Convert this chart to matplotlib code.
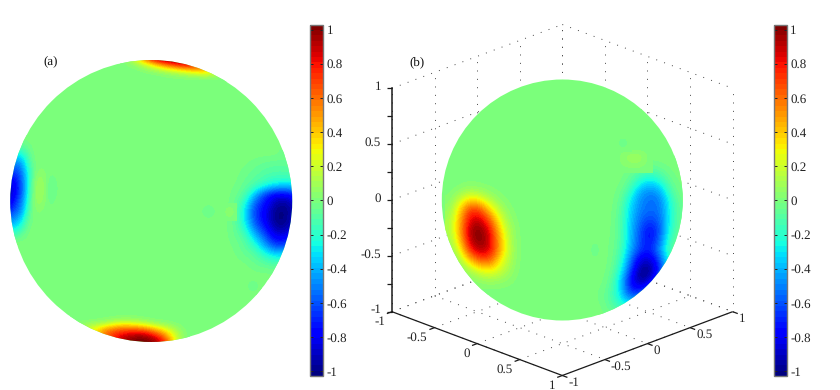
import numpy as np
import matplotlib
matplotlib.use("Agg")
import matplotlib.pyplot as plt
from matplotlib.cm import ScalarMappable
from matplotlib.colors import Normalize
from matplotlib.patches import Circle
from mpl_toolkits.mplot3d import proj3d

plt.rcParams['font.family'] = ['Liberation Serif', 'DejaVu Serif']
plt.rcParams['axes.unicode_minus'] = False
plt.rcParams['text.hinting'] = 'none'
plt.rcParams['text.hinting_factor'] = 1

# ---- data: field values on small lattices -----------------------------------
a_top = [
    [0, .20, .60, .90, 1.03, 1.03, 1.00, .90, .75, .40, 0],
    [0, .20, .55, .85, 1.00, 1.03, 1.00, .85, .70, .35, 0],
    [0, .06, .20, .40, .60, .75, .85, .75, .60, .30, 0],
    [0, 0, .04, .12, .22, .32, .42, .50, .50, .25, 0],
    [0, 0, 0, 0, .03, .06, .10, .15, .20, .15, 0],
    [0, 0, 0, 0, 0, 0, 0, 0, 0, 0, 0],
]
a_bottom = [
    [0, 0, 0, 0, 0, 0, 0, 0, 0, 0, 0, 0],
    [0, 0, 0, .02, .05, .08, .06, .03, 0, 0, 0, 0],
    [0, .08, .12, .20, .30, .35, .30, .25, .15, .08, .02, 0],
    [0, .15, .30, .50, .60, .65, .65, .60, .45, .30, .12, 0],
    [0, .15, .30, .60, .75, .85, .90, .90, .75, .50, .20, 0],
    [0, .15, .30, .60, .80, .95, 1.03, 1.03, .95, .70, .25, 0],
    [0, .15, .30, .60, .80, .95, 1.03, 1.03, 1.00, .75, .30, 0],
]
a_left = [
    [0, 0, 0, 0, 0, 0, 0, 0, 0, 0, 0, 0],
    [-.15, -.15, -.15, -.15, -.10, -.03, 0, 0, 0, 0, 0, 0],
    [-.45, -.45, -.45, -.40, -.25, -.08, 0, 0, 0, 0, 0, 0],
    [-.60, -.60, -.60, -.55, -.35, -.15, -.01, .02, .01, 0, 0, 0],
    [-.80, -.80, -.75, -.60, -.40, -.15, .04, .08, .03, -.04, -.02, 0],
    [-.90, -.90, -.80, -.65, -.40, -.12, .06, .10, .03, -.08, -.03, 0],
    [-.85, -.85, -.70, -.55, -.35, -.10, .06, .08, .02, -.04, -.01, 0],
    [-.70, -.70, -.60, -.50, -.28, -.06, .02, .02, 0, 0, 0, 0],
    [-.50, -.50, -.42, -.35, -.15, -.03, 0, 0, 0, 0, 0, 0],
    [-.25, -.25, -.25, -.15, -.06, 0, 0, 0, 0, 0, 0, 0],
    [0, 0, 0, 0, 0, 0, 0, 0, 0, 0, 0, 0],
]
a_right = [
    [0, 0, 0, 0, 0, 0, -.03, 0],
    [0, 0, -.01, -.04, -.07, -.08, -.08, -.05],
    [0, 0, -.04, -.07, -.10, -.12, -.12, -.10],
    [0, -.01, -.06, -.10, -.20, -.28, -.30, -.30],
    [0, -.03, -.10, -.40, -.68, -.82, -.85, -.70],
    [0, -.04, -.25, -.62, -.75, -.95, -1.00, -.90],
    [0, -.05, -.30, -.65, -.80, -1.02, -1.03, -.85],
    [0, -.05, -.25, -.58, -.75, -.98, -1.00, -.85],
    [0, -.05, -.12, -.40, -.60, -.85, -.85, -.70],
    [0, -.02, -.08, -.20, -.45, -.65, -.65, -.50],
    [0, -.01, -.05, -.08, -.20, -.30, -.30, -.30],
    [0, 0, 0, -.04, -.06, -.08, -.08, -.08],
    [0, 0, 0, 0, 0, 0, 0, 0],
]
a_spot1 = [[0, 0, 0], [0, -.10, 0], [0, 0, 0]]
a_spot2 = [[0, 0, 0], [0, -.09, 0], [0, 0, 0]]
a_spot3 = [[0, 0, 0], [0, .09, 0], [0, 0, 0]]

b_red = [
    [0, 0, 0, 0, 0, 0, 0, 0],
    [0, .03, .08, .05, .02, 0, 0, 0],
    [.02, .20, .38, .32, .14, .04, 0, 0],
    [.06, .38, .75, .70, .38, .14, .02, 0],
    [.10, .45, .86, .90, .65, .26, .05, 0],
    [.10, .48, .95, 1.03, .82, .38, .10, 0],
    [.08, .40, .92, 1.03, .88, .45, .12, 0],
    [.03, .26, .76, .95, .85, .48, .14, 0],
    [0, .10, .42, .66, .66, .32, .12, 0],
    [0, .02, .12, .26, .32, .22, .08, 0],
    [0, 0, .02, .06, .09, .07, .03, 0],
    [0, 0, 0, 0, 0, 0, 0, 0],
]
b_blue = [
    [0, 0, 0, 0, 0, 0, 0, 0, 0],
    [0, 0, 0, -.02, -.08, -.10, -.06, -.01, 0],
    [0, 0, 0, -.06, -.20, -.28, -.20, -.05, 0],
    [0, 0, -.02, -.15, -.40, -.48, -.40, -.12, -.01],
    [0, 0, -.04, -.27, -.48, -.55, -.52, -.22, -.03],
    [0, 0, -.06, -.33, -.50, -.55, -.53, -.25, -.05],
    [0, 0, -.08, -.34, -.55, -.65, -.56, -.25, -.04],
    [0, 0, -.08, -.36, -.60, -.78, -.60, -.22, -.03],
    [0, -.01, -.08, -.36, -.62, -.78, -.55, -.15, -.02],
    [0, -.01, -.10, -.40, -.65, -.72, -.45, -.10, 0],
    [0, -.01, -.14, -.50, -.85, -.90, -.60, -.20, 0],
    [0, -.02, -.20, -.60, -1.00, -1.00, -.70, -.20, 0],
    [0, -.04, -.30, -.75, -1.00, -.90, -.50, -.10, 0],
    [-.01, -.08, -.30, -.70, -.75, -.50, -.20, 0, 0],
    [-.01, -.10, -.25, -.45, -.40, -.20, 0, 0, 0],
    [0, -.04, -.10, -.10, -.05, 0, 0, 0, 0],
]
b_bump = [[0, 0, 0, 0], [0, .07, .10, 0], [0, .05, .06, 0], [0, 0, 0, 0]]
b_spot1 = [[0, 0, 0], [0, -.07, 0], [0, 0, 0]]
b_spot2 = [[0, 0, 0], [0, -.06, 0], [0, 0, 0]]

colorbar_ticks = [-1, -.8, -.6, -.4, -.2, 0, .2, .4, .6, .8, 1]
colorbar_labels = ['-1', '-0.8', '-0.6', '-0.4', '-0.2', '0', '0.2', '0.4', '0.6', '0.8', '1']
axis_ticks = [-1, -.5, 0, .5, 1]
axis_labels = ['-1', '-0.5', '0', '0.5', '1']
z_minor_ticks = [-.75, -.25, .25, .75]

# ---- layout ------------------------------------------------------------------
W, H = 840, 390
cmap = matplotlib.colormaps['jet'].resampled(65)
norm = Normalize(-1.03, 1.03)
fig = plt.figure(figsize=(W / 100, H / 100), dpi=100)

# 3-D box (orthographic), calibrated to the pixel size of the reference box
ax3 = fig.add_axes([0.1, 0.1, 0.5, 0.5 * W / H], projection='3d')
ax3.set_proj_type('ortho')
ax3.view_init(elev=22, azim=-45)
ax3.set_xlim(-1, 1); ax3.set_ylim(-1, 1); ax3.set_zlim(-1, 1)
ax3.set_box_aspect((1, 1, 1))
ax3.set_axis_off()


def to_px(x, y, z):
    ax3.apply_aspect()
    u, v, _ = proj3d.proj_transform(x, y, z, ax3.get_proj())
    return ax3.transData.transform((u, v))


size = 400.0
target = np.array([562.3, H - 200.0])
centre = target.copy()
for _ in range(4):
    ax3.set_position([(centre[0] - size / 2) / W, (centre[1] - size / 2) / H, size / W, size / H])
    span = to_px(1, 1, -1)[0] - to_px(-1, -1, -1)[0]
    centre = centre + (target - to_px(0, 0, 0))
    size *= 340.7 / span
ax3.set_position([(centre[0] - size / 2) / W, (centre[1] - size / 2) / H, size / W, size / H])

dot = dict(color='#444444', lw=0.7, ls=(0, (1, 7.6)))
solid = dict(color='#1a1a1a', lw=0.9, solid_capstyle='butt')
grid = np.array(axis_ticks, dtype=float)
for t in grid:
    ax3.plot([-1, -1], [t, t], [-1, 1], **dot)
    ax3.plot([-1, -1], [-1, 1], [t, t], **dot)
    ax3.plot([t, t], [1, 1], [-1, 1], **dot)
    ax3.plot([-1, 1], [1, 1], [t, t], **dot)
    ax3.plot([t, t], [-1, 1], [-1, -1], **dot)
    ax3.plot([-1, 1], [t, t], [-1, -1], **dot)

ax3.plot([-1, 1], [-1, -1], [-1, -1], **solid)
ax3.plot([1, 1], [-1, 1], [-1, -1], **solid)
ax3.plot([-1, -1], [-1, -1], [-1, 1], color='#1a1a1a', lw=1.1)
for t in axis_ticks:
    ax3.plot([t, t], [-1, -1.06], [-1, -1], **solid)
    ax3.plot([1, 1.06], [t, t], [-1, -1], **solid)
    ax3.plot([-1, -1.03], [-1, -1.03], [t, t], **solid)
for t in z_minor_ticks:
    ax3.plot([-1, -1.03], [-1, -1.03], [t, t], **solid)

# discs drawn on a transparent overlay whose data units are the picture's pixels
ov = fig.add_axes([0, 0, 1, 1], zorder=5)
ov.axis('off')
disc_a = Circle((151.2, 201), 141, fc=cmap(norm(0)), ec='none', zorder=0)
disc_b = Circle((562.3, 200), 120.5, fc=cmap(norm(0)), ec='none', zorder=0)
ov.add_patch(disc_a)
ov.add_patch(disc_b)


def field(values, x0, x1, y0, y1, disc):
    v = np.array(values, dtype=float)
    dx = (x1 - x0) / (v.shape[1] - 1)
    dy = (y1 - y0) / (v.shape[0] - 1)
    im = ov.imshow(v, cmap=cmap, norm=norm, aspect='auto', origin='upper', zorder=1,
                   extent=(x0 - dx / 2, x1 + dx / 2, y1 + dy / 2, y0 - dy / 2),
                   interpolation='bicubic', interpolation_stage='data')
    im.set_clip_path(disc)


field(a_top, 125, 225, 55, 80, disc_a)
field(a_bottom, 75, 185, 315, 345, disc_a)
field(a_left, 5, 60, 140, 240, disc_a)
field(a_right, 225, 295, 155, 275, disc_a)
field(a_spot1, 201, 215, 205, 219, disc_a)
field(a_spot2, 247, 259, 280, 292, disc_a)
field(a_spot3, 224, 234, 206, 218, disc_a)
field(b_red, 450, 520, 180, 290, disc_b)
field(b_blue, 600, 680, 160, 310, disc_b)
field(b_bump, 618, 648, 150, 170, disc_b)
field(b_spot1, 617, 629, 137, 149, disc_b)
field(b_spot2, 589, 601, 240, 260, disc_b)

ov.set_xlim(0, W)
ov.set_ylim(H, 0)
ov.text(51, 61, '(a)', ha='center', va='center', fontsize=9.6, color='#111111')
ov.text(417, 62, '(b)', ha='center', va='center', fontsize=9.6, color='#111111')

# tick labels of the 3-D box, placed at the projected tick positions
label_style = dict(va='center', fontsize=9.5, color='#222222')
for t, s in zip(axis_ticks, axis_labels):
    px, py = to_px(t, -1, -1)
    ov.text(px - 7, H - py + 10, s, ha='right', **label_style)
    px, py = to_px(1, t, -1)
    ov.text(px + 6, H - py + 7.5, s, ha='left', **label_style)
    px, py = to_px(-1, -1, t)
    ov.text(px - 11, H - py - 1.5, s, ha='right', **label_style)

# colour bars
for x0, x1 in [(310, 323.3), (774, 786.7)]:
    cax = fig.add_axes([x0 / W, (H - 376.3) / H, (x1 - x0) / W, (376.3 - 24.5) / H], zorder=6)
    cb = fig.colorbar(ScalarMappable(norm=norm, cmap=cmap), cax=cax, ticks=colorbar_ticks)
    cb.ax.set_yticklabels(colorbar_labels)
    cb.ax.tick_params(axis='y', direction='in', left=True, right=True, length=2.2, width=0.7,
                      color='#222222', labelsize=9.6, pad=2.6, labelcolor='#222222')
    cb.outline.set_edgecolor('#777777')
    cb.outline.set_linewidth(1.0)

fig.savefig('out.png', dpi=100)
